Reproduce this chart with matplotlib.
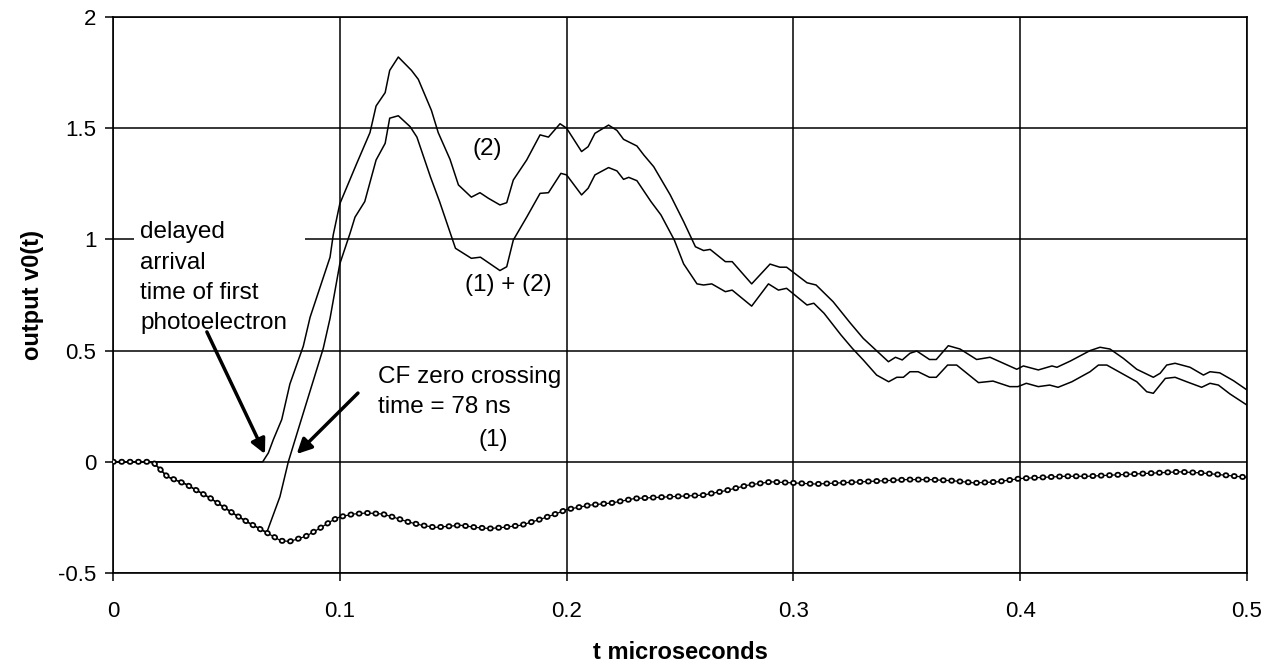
import matplotlib
matplotlib.use("Agg")
import matplotlib.pyplot as plt
from matplotlib.patches import Rectangle

plt.rcParams['font.family'] = ['Liberation Sans', 'DejaVu Sans']
plt.rcParams['lines.scale_dashes'] = False

# ---------------- data ----------------
x_ticks = [0, 0.1, 0.2, 0.3, 0.4, 0.5]
x_tick_labels = ["0", "0.1", "0.2", "0.3", "0.4", "0.5"]
y_ticks = [-0.5, 0, 0.5, 1, 1.5, 2]
y_tick_labels = ["-0.5", "0", "0.5", "1", "1.5", "2"]

# curve (1)
t1 = [0, 0.005, 0.01, 0.015, 0.018, 0.024, 0.032, 0.043, 0.053, 0.060, 0.068,
      0.074, 0.078, 0.085, 0.091, 0.097, 0.100, 0.106, 0.112, 0.119, 0.124,
      0.130, 0.136, 0.142, 0.148, 0.153, 0.160, 0.166, 0.172, 0.180, 0.188,
      0.195, 0.200, 0.210, 0.220, 0.230, 0.240, 0.250, 0.260, 0.270, 0.280,
      0.290, 0.300, 0.310, 0.320, 0.330, 0.340, 0.350, 0.360, 0.370, 0.380,
      0.390, 0.400, 0.410, 0.420, 0.430, 0.440, 0.450, 0.460, 0.470, 0.480,
      0.490, 0.500]
v1 = [0, 0, 0, 0, -0.005, -0.067, -0.10, -0.164, -0.232, -0.275, -0.32,
      -0.355, -0.358, -0.335, -0.30, -0.262, -0.248, -0.235, -0.23, -0.235, -0.25,
      -0.27, -0.285, -0.295, -0.29, -0.285, -0.295, -0.30, -0.295, -0.285, -0.26,
      -0.235, -0.215, -0.195, -0.185, -0.165, -0.16, -0.155, -0.15, -0.13, -0.105,
      -0.09, -0.095, -0.10, -0.095, -0.09, -0.085, -0.08, -0.08, -0.085, -0.095,
      -0.09, -0.075, -0.07, -0.065, -0.065, -0.06, -0.055, -0.05, -0.045, -0.05,
      -0.06, -0.07]

# curve (2)
t2 = [0, 0.066, 0.0685, 0.0707, 0.0744, 0.078, 0.0839, 0.0869, 0.0957, 0.0971,
      0.100, 0.1074, 0.1133, 0.116, 0.120, 0.122, 0.1258, 0.1316, 0.1346, 0.1404,
      0.1434, 0.1486, 0.1523, 0.158, 0.1618, 0.1655, 0.1706, 0.1736, 0.1765,
      0.1824, 0.1883, 0.192, 0.1971, 0.200, 0.2066, 0.2095, 0.2125, 0.2185,
      0.2222, 0.2251, 0.231, 0.234, 0.2384, 0.2457, 0.2516, 0.2568, 0.2604,
      0.2633, 0.270, 0.273, 0.2816, 0.2897, 0.294, 0.297, 0.306, 0.310, 0.3175,
      0.325, 0.3308, 0.3419, 0.345, 0.348, 0.3514, 0.3544, 0.360, 0.363, 0.3683,
      0.3735, 0.3808, 0.3867, 0.3926, 0.3985, 0.4014, 0.408, 0.414, 0.4162,
      0.4221, 0.4308, 0.4352, 0.4396, 0.4455, 0.4514, 0.4587, 0.4617, 0.4646,
      0.4683, 0.4749, 0.4808, 0.4837, 0.488, 0.494, 0.500]
v2 = [0, 0, 0.04, 0.10, 0.19, 0.35, 0.52, 0.65, 0.92, 1.02,
      1.16, 1.34, 1.48, 1.60, 1.66, 1.76, 1.82, 1.76, 1.72, 1.58,
      1.48, 1.36, 1.245, 1.19, 1.21, 1.185, 1.155, 1.165, 1.267,
      1.357, 1.47, 1.46, 1.52, 1.50, 1.395, 1.417, 1.477, 1.514,
      1.49, 1.45, 1.42, 1.38, 1.327, 1.20, 1.08, 0.967, 0.95,
      0.955, 0.90, 0.90, 0.80, 0.889, 0.875, 0.875, 0.805, 0.795, 0.72,
      0.625, 0.555, 0.45, 0.47, 0.458, 0.488, 0.498, 0.46, 0.46, 0.522,
      0.507, 0.46, 0.47, 0.443, 0.416, 0.431, 0.413, 0.431, 0.425,
      0.453, 0.50, 0.515, 0.507, 0.465, 0.416, 0.38, 0.398, 0.435,
      0.443, 0.425, 0.39, 0.405, 0.40, 0.365, 0.323]

# curve (1) + (2)
t12 = [0, 0.015, 0.018, 0.024, 0.032, 0.043, 0.053, 0.060, 0.0678, 0.0736,
       0.0773, 0.0825, 0.0927, 0.0957, 0.100, 0.1045, 0.1067, 0.111, 0.116,
       0.120, 0.122, 0.1258, 0.131, 0.134, 0.140, 0.144, 0.151, 0.158, 0.162,
       0.1706, 0.1736, 0.1765, 0.1824, 0.1883, 0.192, 0.1975, 0.200, 0.2066,
       0.2095, 0.2125, 0.2185, 0.2222, 0.2251, 0.2274, 0.231, 0.2372, 0.2416,
       0.2475, 0.2516, 0.2575, 0.2604, 0.264, 0.270, 0.273, 0.2816, 0.289,
       0.2934, 0.297, 0.306, 0.309, 0.3135, 0.321, 0.326, 0.3308, 0.3367,
       0.342, 0.3456, 0.3485, 0.3514, 0.355, 0.360, 0.363, 0.368, 0.372,
       0.3816, 0.388, 0.3954, 0.399, 0.4027, 0.408, 0.413, 0.4167, 0.4228,
       0.4308, 0.4345, 0.4382, 0.4514, 0.4558, 0.4587, 0.464, 0.4683, 0.4734,
       0.480, 0.4837, 0.4874, 0.4925, 0.500]
v12 = [0, 0, -0.005, -0.067, -0.10, -0.164, -0.232, -0.275, -0.318, -0.157,
       0.0, 0.173, 0.51, 0.645, 0.89, 1.027, 1.10, 1.17, 1.357,
       1.432, 1.545, 1.556, 1.507, 1.46, 1.28, 1.17, 0.96, 0.915, 0.92,
       0.86, 0.877, 0.997, 1.10, 1.207, 1.21, 1.297, 1.29, 1.20,
       1.23, 1.29, 1.323, 1.308, 1.27, 1.279, 1.264, 1.17, 1.11,
       0.997, 0.89, 0.80, 0.795, 0.80, 0.765, 0.772, 0.70, 0.80,
       0.772, 0.78, 0.705, 0.713, 0.668, 0.57, 0.51, 0.458, 0.39,
       0.36, 0.38, 0.38, 0.405, 0.405, 0.38, 0.38, 0.435, 0.435,
       0.356, 0.363, 0.338, 0.338, 0.353, 0.338, 0.345, 0.335, 0.36,
       0.405, 0.435, 0.435, 0.36, 0.315, 0.308, 0.375, 0.38, 0.36,
       0.335, 0.353, 0.345, 0.305, 0.255]

# ---------------- figure ----------------
fig = plt.figure(figsize=(12.7, 6.67), dpi=100)
ax = fig.add_axes([0.08898, 0.14093, 0.8929, 0.83358])
ax.set_xlim(0, 0.5)
ax.set_ylim(-0.5, 2)
ax.set_axisbelow(True)
ax.grid(True, color='black', lw=1.1)

for s in ax.spines.values():
    s.set_color('black')
    s.set_linewidth(1.2)

ax.set_xticks(x_ticks)
ax.set_xticklabels(x_tick_labels)
ax.set_yticks(y_ticks)
ax.set_yticklabels(y_tick_labels)
ax.tick_params(axis='both', direction='out', length=6, width=1.1,
               labelsize=16, colors='black')
ax.tick_params(axis='x', pad=14)
ax.tick_params(axis='y', pad=6)

ax.set_xlabel('t microseconds', fontsize=17, fontweight='bold', labelpad=14)
ax.set_ylabel('output v0(t)', fontsize=17, fontweight='bold', labelpad=10)

# white box behind the annotation text (interrupts the y=1 gridline)
ax.add_patch(Rectangle((0.0093, 0.62), 0.0754, 0.5, facecolor='white',
                       edgecolor='none', zorder=1))

# curves
ax.plot(t2, v2, color='black', lw=1.1, zorder=3)
ax.plot(t12, v12, color='black', lw=1.1, zorder=3)

# curve (1): small open circles along a thin line
ax.plot(t1, v1, color='black', lw=0.9, zorder=3)
ax.plot(t1, v1, color='black', lw=4.3, dashes=[0.6, 5.4],
        dash_capstyle='round', zorder=3.1)
ax.plot(t1, v1, color='white', lw=1.7, dashes=[0.6, 5.4],
        dash_capstyle='round', zorder=3.2)

# text labels
tfs = 17.5
ax.text(0.1587, 1.4065, '(2)', fontsize=tfs, ha='left', va='center')
ax.text(0.1552, 0.795, '(1) + (2)', fontsize=tfs, ha='left', va='center')
ax.text(0.161, 0.098, '(1)', fontsize=tfs, ha='left', va='center')
ax.text(0.1168, 0.381, 'CF zero crossing', fontsize=tfs, ha='left', va='center')
ax.text(0.1168, 0.246, 'time = 78 ns', fontsize=tfs, ha='left', va='center')
for i, line in enumerate(['delayed', 'arrival', 'time of first', 'photoelectron']):
    ax.text(0.0119, 1.033 - i * 0.137, line, fontsize=tfs, ha='left',
            va='center', zorder=4)

# arrows
ax.annotate('', xy=(0.067, 0.035), xytext=(0.0414, 0.584),
            arrowprops=dict(arrowstyle='-|>', lw=2.5, color='black',
                            mutation_scale=22, shrinkA=0, shrinkB=0), zorder=5)
ax.annotate('', xy=(0.081, 0.035), xytext=(0.108, 0.309),
            arrowprops=dict(arrowstyle='-|>', lw=2.5, color='black',
                            mutation_scale=22, shrinkA=0, shrinkB=0), zorder=5)

fig.savefig('out.png', dpi=100, facecolor='white')
